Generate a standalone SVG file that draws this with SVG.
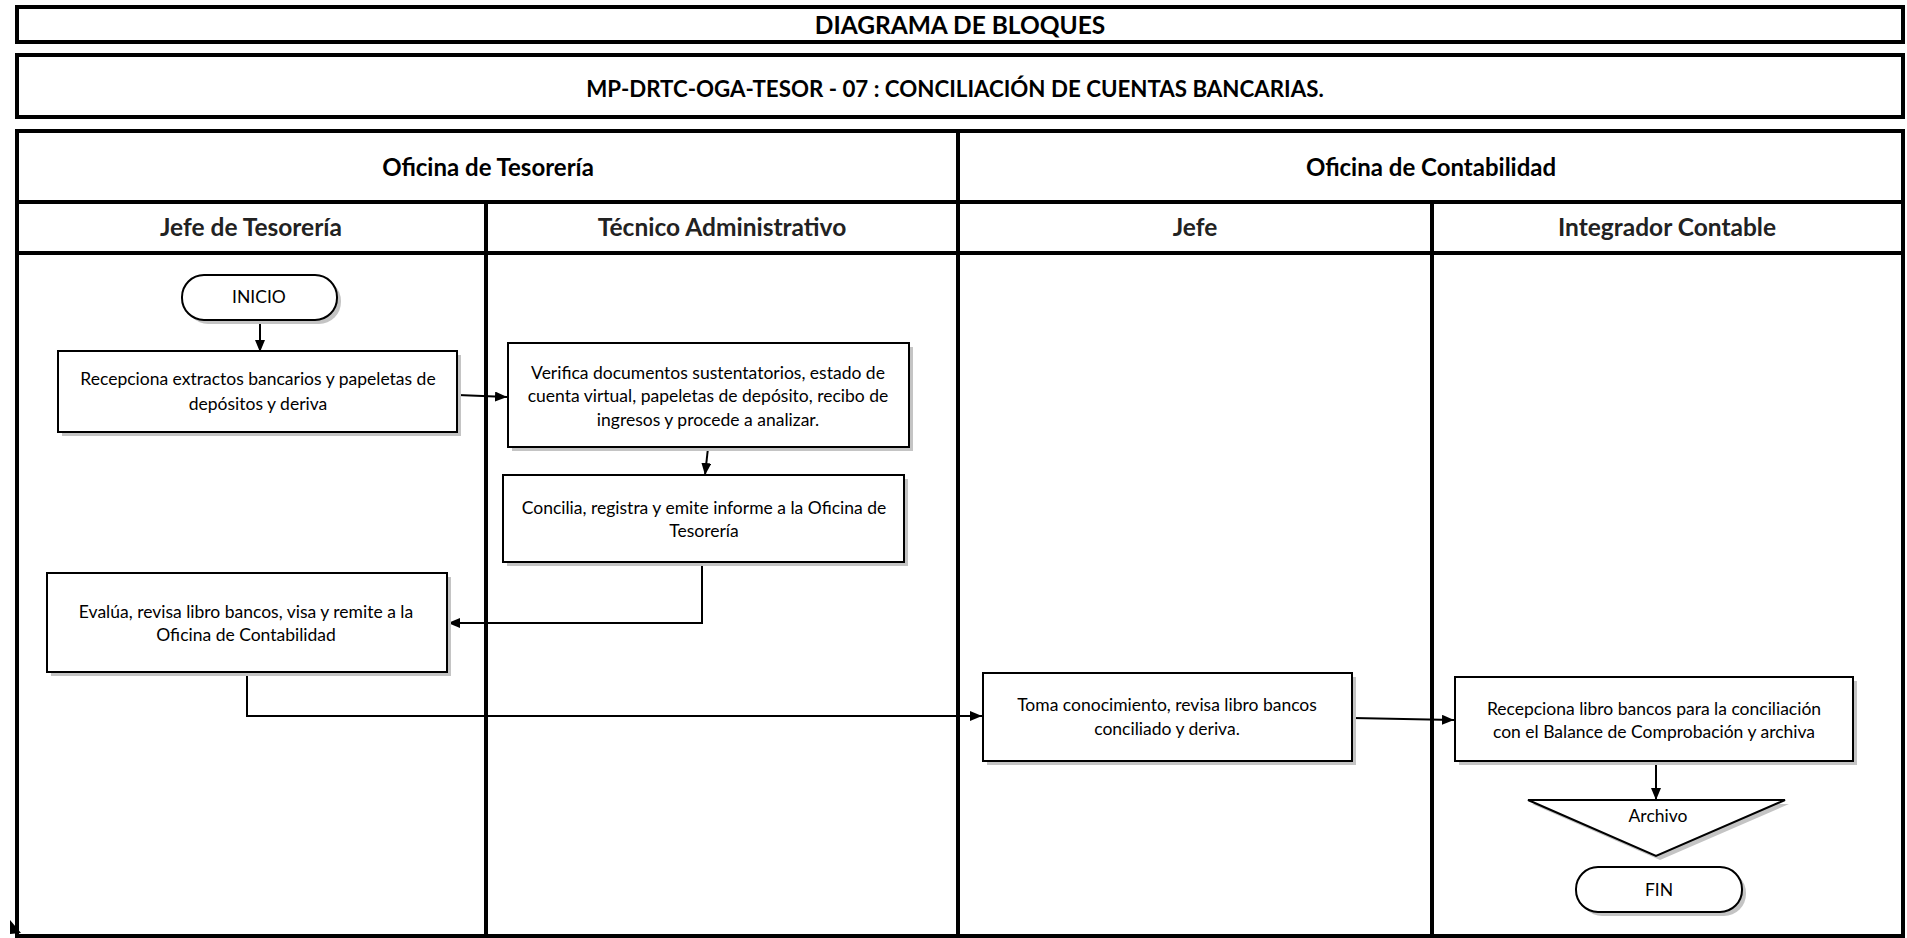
<svg xmlns="http://www.w3.org/2000/svg" width="1907" height="938" viewBox="0 0 1907 938">
  <defs>
    <marker id="arrow" viewBox="0 0 12 10" refX="12" refY="5" markerWidth="12" markerHeight="10" markerUnits="userSpaceOnUse" orient="auto">
      <path d="M0,0 L12,5 L0,10 Z" fill="#000"/>
    </marker>
  </defs>
  <style>
    .frame { fill: #fff; stroke: #000; stroke-width: 4; }
    .rule { stroke: #000; stroke-width: 4; fill: none; }
    .box { fill: #fff; stroke: #000; stroke-width: 2; }
    .shadow { fill: #c4c4c4; }
    .head { font-family: Lato, "Liberation Sans", sans-serif; font-weight: bold; fill: #000; text-anchor: middle; }
    .lane { font-family: Lato, "Liberation Sans", sans-serif; font-weight: bold; font-size: 24.5px; fill: #222; text-anchor: middle; }
    .txt { font-family: Lato, "Liberation Sans", sans-serif; font-size: 17.5px; fill: #000; text-anchor: middle; }
    .conn { stroke: #000; stroke-width: 2; fill: none; marker-end: url(#arrow); }
  </style>

  <rect width="1907" height="938" fill="#fff"/>

  <!-- title bars -->
  <g id="title">
    <rect class="frame" x="17" y="7" width="1886" height="35"/>
    <text class="head" x="960" y="34" font-size="24.5">DIAGRAMA DE BLOQUES</text>
  </g>
  <g id="subtitle">
    <rect class="frame" x="17" y="55" width="1886" height="62"/>
    <text class="head" x="955" y="97" font-size="22.3">MP-DRTC-OGA-TESOR - 07 : CONCILIACIÓN DE CUENTAS BANCARIAS.</text>
  </g>

  <!-- swimlane grid -->
  <g id="lanes">
    <rect class="frame" x="17" y="131" width="1886" height="805"/>
    <line class="rule" x1="17" y1="202" x2="1903" y2="202"/>
    <line class="rule" x1="17" y1="253" x2="1903" y2="253"/>
    <line class="rule" x1="958" y1="131" x2="958" y2="936"/>
    <line class="rule" x1="486" y1="202" x2="486" y2="936"/>
    <line class="rule" x1="1432" y1="202" x2="1432" y2="936"/>
    <text class="head" x="488" y="176" font-size="24">Oficina de Tesorería</text>
    <text class="head" x="1431" y="176" font-size="24">Oficina de Contabilidad</text>
    <text class="lane" x="251" y="236">Jefe de Tesorería</text>
    <text class="lane" x="722" y="236">Técnico Administrativo</text>
    <text class="lane" x="1195" y="236">Jefe</text>
    <text class="lane" x="1667" y="236">Integrador Contable</text>
    <path d="M10,920 L10,934 L21,933 Z" fill="#000"/>
  </g>

  <!-- connectors -->
  <g id="connectors">
    <line class="conn" x1="260" y1="320" x2="260" y2="352"/>
    <line class="conn" x1="458" y1="395" x2="507" y2="397"/>
    <line class="conn" x1="708" y1="448" x2="705" y2="475"/>
    <polyline class="conn" points="702,563 702,623 448,623"/>
    <polyline class="conn" points="247,673 247,716 982,716"/>
    <line class="conn" x1="1353" y1="718" x2="1454" y2="720"/>
    <line class="conn" x1="1656" y1="762" x2="1656" y2="800"/>
  </g>

  <!-- nodes -->
  <g id="inicio">
    <rect class="shadow" x="186" y="279" width="155" height="45" rx="22"/>
    <rect class="box" x="182" y="275" width="155" height="45" rx="22"/>
    <text class="txt" x="259" y="303">INICIO</text>
  </g>
  <g id="recepciona-extractos">
    <rect class="shadow" x="62" y="355" width="399" height="81"/>
    <rect class="box" x="58" y="351" width="399" height="81"/>
    <text class="txt" x="258" y="385">Recepciona extractos bancarios y papeletas de</text>
    <text class="txt" x="258" y="410">depósitos y deriva</text>
  </g>
  <g id="verifica">
    <rect class="shadow" x="512" y="347" width="401" height="104"/>
    <rect class="box" x="508" y="343" width="401" height="104"/>
    <text class="txt" x="708" y="379">Verifica documentos sustentatorios, estado de</text>
    <text class="txt" x="708" y="402">cuenta virtual, papeletas de depósito, recibo de</text>
    <text class="txt" x="708" y="426">ingresos y procede a analizar.</text>
  </g>
  <g id="concilia">
    <rect class="shadow" x="507" y="479" width="401" height="87"/>
    <rect class="box" x="503" y="475" width="401" height="87"/>
    <text class="txt" x="704" y="514">Concilia, registra y emite informe a la Oficina de</text>
    <text class="txt" x="704" y="537">Tesorería</text>
  </g>
  <g id="evalua">
    <rect class="shadow" x="51" y="577" width="400" height="99"/>
    <rect class="box" x="47" y="573" width="400" height="99"/>
    <text class="txt" x="246" y="618">Evalúa, revisa libro bancos, visa y remite a la</text>
    <text class="txt" x="246" y="641">Oficina de Contabilidad</text>
  </g>
  <g id="toma-conocimiento">
    <rect class="shadow" x="987" y="677" width="369" height="88"/>
    <rect class="box" x="983" y="673" width="369" height="88"/>
    <text class="txt" x="1167" y="711">Toma conocimiento, revisa libro bancos</text>
    <text class="txt" x="1167" y="735">conciliado y deriva.</text>
  </g>
  <g id="recepciona-libro">
    <rect class="shadow" x="1459" y="681" width="398" height="84"/>
    <rect class="box" x="1455" y="677" width="398" height="84"/>
    <text class="txt" x="1654" y="715">Recepciona libro bancos para la conciliación</text>
    <text class="txt" x="1654" y="738">con el Balance de Comprobación y archiva</text>
  </g>
  <g id="archivo">
    <polygon class="shadow" points="1532,804 1789,804 1660,860"/>
    <polygon class="box" points="1528,800 1785,800 1656,856"/>
    <text class="txt" x="1658" y="822">Archivo</text>
  </g>
  <g id="fin">
    <rect class="shadow" x="1580" y="871" width="166" height="45" rx="22"/>
    <rect class="box" x="1576" y="867" width="166" height="45" rx="22"/>
    <text class="txt" x="1659" y="896">FIN</text>
  </g>
</svg>
